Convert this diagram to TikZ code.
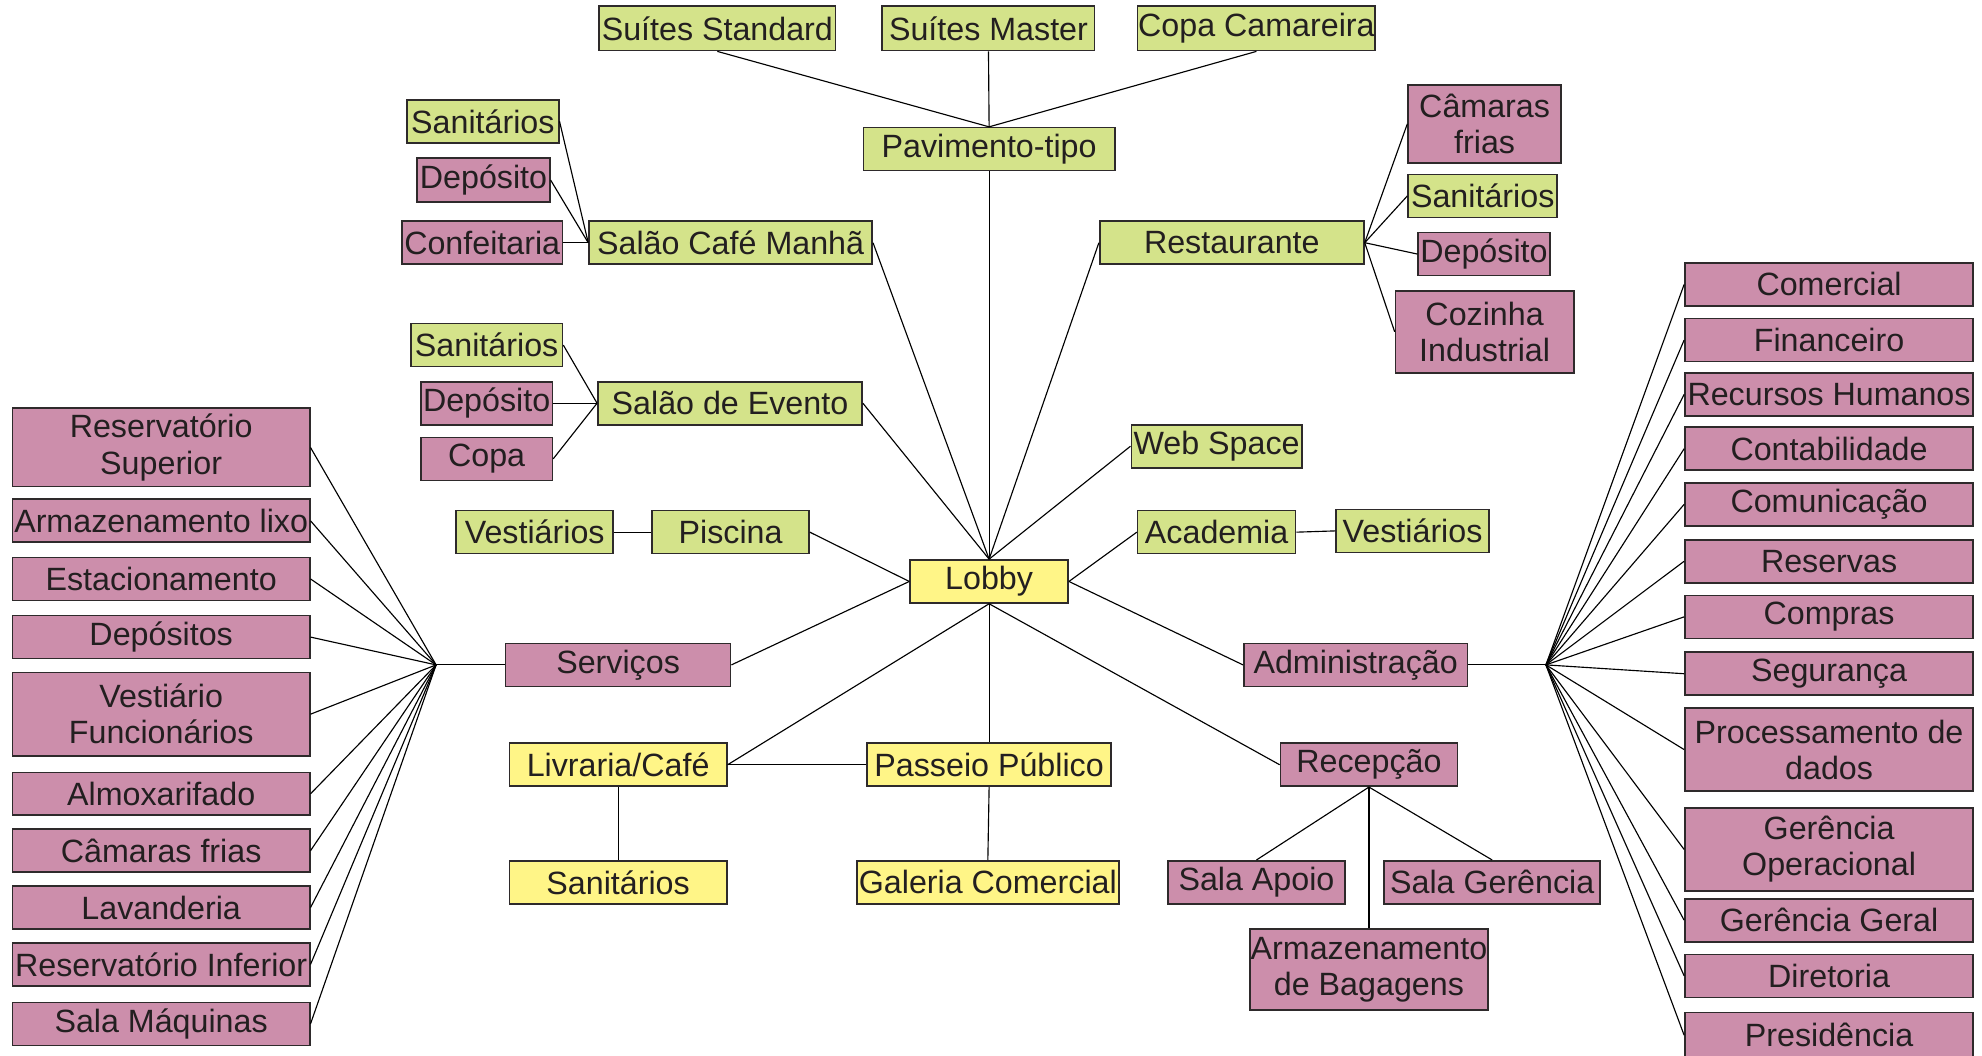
\documentclass[tikz,border=0pt]{standalone}
\usepackage{fontspec}
\setmainfont{Liberation Sans}
\definecolor{gbox}{HTML}{D4E38A}
\definecolor{pbox}{HTML}{CC8EAB}
\definecolor{ybox}{HTML}{FFF587}
\definecolor{edgec}{HTML}{2E2A2B}
\definecolor{txtc}{HTML}{231F20}
\tikzset{
  base/.style={draw=edgec, line width=1.3pt, inner sep=0pt, align=center,
    font=\fontsize{25.5}{28.5}\selectfont, text=txtc},
  gn/.style={base, fill=gbox},
  pk/.style={base, fill=pbox},
  yw/.style={base, fill=ybox},
  wire/.style={draw=black, line width=0.9pt}
}
\begin{document}
\begin{tikzpicture}[x=1pt,y=-1pt]
\clip (0,0) rectangle (1568,835);
\fill[white] (0,0) rectangle (1568,835);
% top
\node[gn, minimum width=187pt, minimum height=35pt] (sstd) at (567.5,22.5) {Suítes Standard};
\node[gn, minimum width=168pt, minimum height=35pt] (smas) at (782,22.5) {Suítes Master};
\node[gn, minimum width=188pt, minimum height=35pt] (copac) at (994,22.5) {Copa Camareira};
\node[gn, minimum width=199pt, minimum height=34pt] (pav) at (782.5,118) {Pavimento-tipo};
% cafe
\node[gn, minimum width=120pt, minimum height=34pt] (san1) at (382,96) {Sanitários};
\node[pk, minimum width=105pt, minimum height=35pt] (dep1) at (382.5,142.5) {Depósito};
\node[pk, minimum width=127pt, minimum height=34pt] (conf) at (381.5,192) {Confeitaria};
\node[gn, minimum width=224pt, minimum height=34pt] (scafe) at (578,192) {Salão Café Manhã};
% restaurante
\node[gn, minimum width=209pt, minimum height=34pt] (rest) at (974.5,192) {Restaurante};
\node[pk, minimum width=121pt, minimum height=62pt] (cam1) at (1174.5,98) {Câmaras\\frias};
\node[gn, minimum width=118pt, minimum height=34pt] (san2) at (1173,155) {Sanitários};
\node[pk, minimum width=104pt, minimum height=34pt] (dep2) at (1174,201) {Depósito};
\node[pk, minimum width=141pt, minimum height=65pt] (coz) at (1174.5,262.5) {Cozinha\\Industrial};
% evento
\node[gn, minimum width=120pt, minimum height=34pt] (san3) at (385,273) {Sanitários};
\node[pk, minimum width=104pt, minimum height=34pt] (dep3) at (385,319) {Depósito};
\node[pk, minimum width=104pt, minimum height=34pt] (copa) at (385,363) {Copa};
\node[gn, minimum width=209pt, minimum height=34pt] (sevt) at (577.5,319) {Salão de Evento};
% middle
\node[gn, minimum width=135pt, minimum height=34pt] (web) at (962.5,353) {Web Space};
\node[gn, minimum width=124pt, minimum height=34pt] (vest1) at (423,421) {Vestiários};
\node[gn, minimum width=124pt, minimum height=34pt] (pisc) at (578,421) {Piscina};
\node[gn, minimum width=125pt, minimum height=34pt] (acad) at (962.5,421) {Academia};
\node[gn, minimum width=121pt, minimum height=34pt] (vest2) at (1117.5,420) {Vestiários};
\node[yw, minimum width=125pt, minimum height=34pt] (lobby) at (782.5,460) {Lobby};
\node[pk, minimum width=178pt, minimum height=34pt] (serv) at (489,526) {Serviços};
\node[pk, minimum width=177pt, minimum height=34pt] (adm) at (1072.5,526) {Administração};
\node[yw, minimum width=172pt, minimum height=34pt] (livr) at (489,605) {Livraria/Café};
\node[yw, minimum width=193pt, minimum height=34pt] (pass) at (782.5,605) {Passeio Público};
\node[pk, minimum width=140pt, minimum height=34pt] (recp) at (1083,605) {Recepção};
\node[yw, minimum width=172pt, minimum height=34pt] (san4) at (489,698) {Sanitários};
\node[yw, minimum width=207pt, minimum height=34pt] (gal) at (781.5,698) {Galeria Comercial};
\node[pk, minimum width=140pt, minimum height=34pt] (sapo) at (994,698) {Sala Apoio};
\node[pk, minimum width=171pt, minimum height=34pt] (sger) at (1180.5,698) {Sala Gerência};
\node[pk, minimum width=188pt, minimum height=64pt] (armb) at (1083,767) {Armazenamento\\de Bagagens};
% left column
\tikzset{lc/.style={pk, minimum width=235pt, minimum height=34pt}}
\node[lc, minimum height=62pt] (l1) at (127.5,354) {Reservatório\\Superior};
\node[lc] (l2) at (127.5,412) {Armazenamento lixo};
\node[lc] (l3) at (127.5,458) {Estacionamento};
\node[lc] (l4) at (127.5,504) {Depósitos};
\node[lc, minimum height=66pt] (l5) at (127.5,565) {Vestiário\\Funcionários};
\node[lc] (l6) at (127.5,628) {Almoxarifado};
\node[lc] (l7) at (127.5,673) {Câmaras frias};
\node[lc] (l8) at (127.5,718) {Lavanderia};
\node[lc] (l9) at (127.5,763) {Reservatório Inferior};
\node[lc] (l10) at (127.5,810) {Sala Máquinas};
% right column
\tikzset{rc/.style={pk, minimum width=228pt, minimum height=34pt}}
\node[rc] (r1) at (1447,225) {Comercial};
\node[rc] (r2) at (1447,269) {Financeiro};
\node[rc] (r3) at (1447,312) {Recursos Humanos};
\node[rc] (r4) at (1447,355) {Contabilidade};
\node[rc] (r5) at (1447,399) {Comunicação};
\node[rc] (r6) at (1447,444) {Reservas};
\node[rc] (r7) at (1447,488) {Compras};
\node[rc] (r8) at (1447,533) {Segurança};
\node[rc, minimum height=66pt] (r9) at (1447,593) {Processamento de\\dados};
\node[rc, minimum height=66pt] (r10) at (1447,672) {Gerência\\Operacional};
\node[rc] (r11) at (1447,728) {Gerência Geral};
\node[rc] (r12) at (1447,772) {Diretoria};
\node[rc, minimum height=36pt] (r13) at (1447,819) {Presidência};
% hubs
\coordinate (hl) at (345,526);
\coordinate (hr) at (1223,526);
% connectors
\draw[wire] (pav.north) -- (sstd.south);
\draw[wire] (pav.north) -- (smas.south);
\draw[wire] (pav.north) -- (copac.south);
\draw[wire] (pav.south) -- (lobby.north);
\draw[wire] (scafe.east) -- (lobby.north);
\draw[wire] (rest.west) -- (lobby.north);
\draw[wire] (sevt.east) -- (lobby.north);
\draw[wire] (web.west) -- (lobby.north);
\draw[wire] (pisc.east) -- (lobby.west);
\draw[wire] (serv.east) -- (lobby.west);
\draw[wire] (acad.west) -- (lobby.east);
\draw[wire] (adm.west) -- (lobby.east);
\draw[wire] (lobby.south) -- (livr.east);
\draw[wire] (lobby.south) -- (pass.north);
\draw[wire] (lobby.south) -- (recp.west);
\draw[wire] (livr.east) -- (pass.west);
\draw[wire] (livr.south) -- (san4.north);
\draw[wire] (pass.south) -- (gal.north);
\draw[wire] (recp.south) -- (sapo.north);
\draw[wire] (recp.south) -- (sger.north);
\draw[wire] (recp.south) -- (armb.north);
\draw[wire] (scafe.west) -- (san1.east);
\draw[wire] (scafe.west) -- (dep1.east);
\draw[wire] (scafe.west) -- (conf.east);
\draw[wire] (sevt.west) -- (san3.east);
\draw[wire] (sevt.west) -- (dep3.east);
\draw[wire] (sevt.west) -- (copa.east);
\draw[wire] (vest1.east) -- (pisc.west);
\draw[wire] (acad.east) -- (vest2.west);
\draw[wire] (rest.east) -- (cam1.west);
\draw[wire] (rest.east) -- (san2.west);
\draw[wire] (rest.east) -- (dep2.west);
\draw[wire] (rest.east) -- (coz.west);
\draw[wire] (serv.west) -- (hl);
\foreach \n in {l1,l2,l3,l4,l5,l6,l7,l8,l9,l10} \draw[wire] (hl) -- (\n.east);
\draw[wire] (adm.east) -- (hr);
\foreach \n in {r1,r2,r3,r4,r5,r6,r7,r8,r9,r10,r11,r12,r13} \draw[wire] (hr) -- (\n.west);
\end{tikzpicture}
\end{document}
